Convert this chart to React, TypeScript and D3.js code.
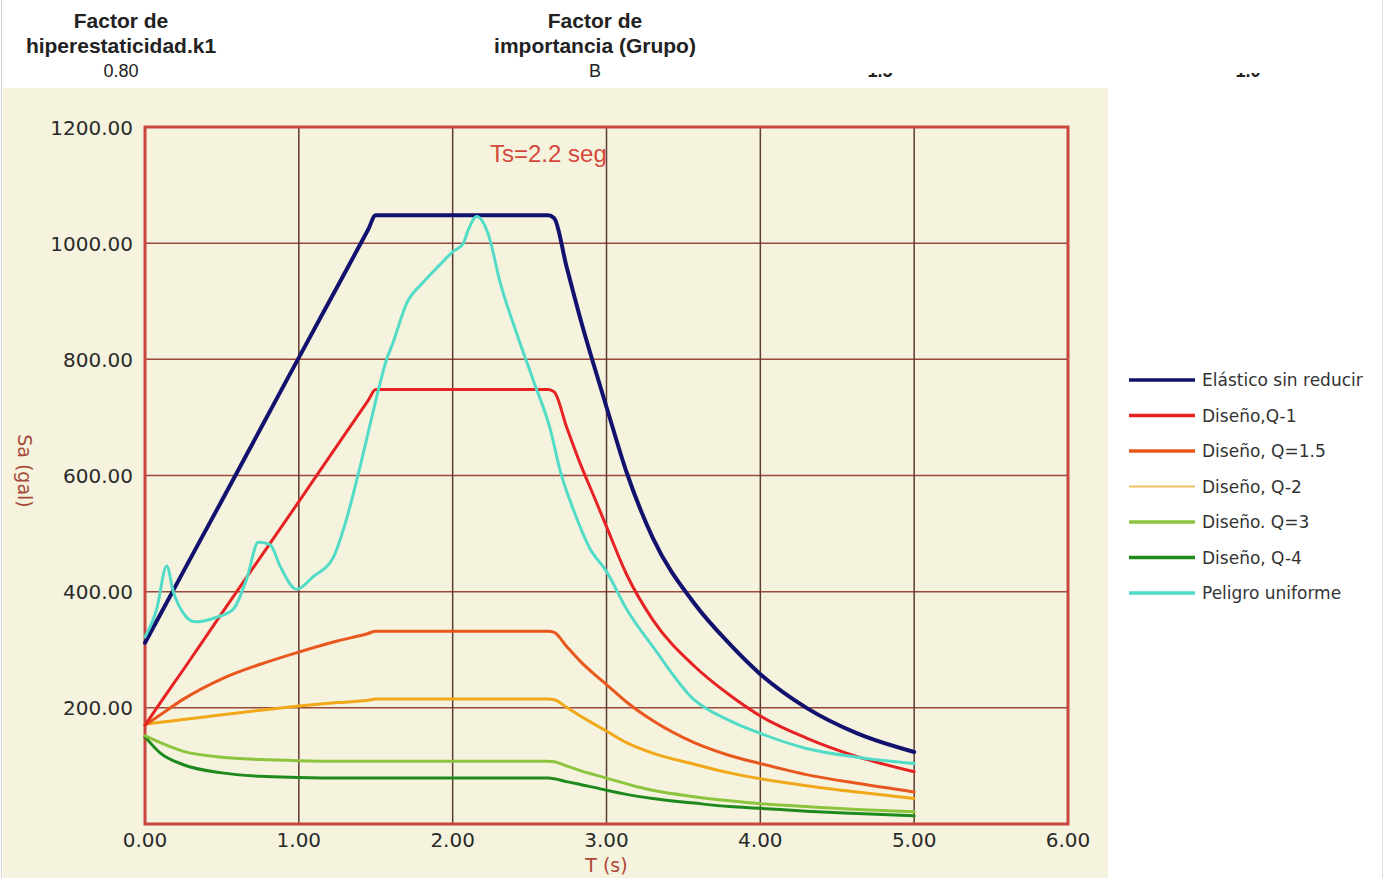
import React, { useEffect, useRef } from 'react';
import * as d3 from 'd3';

// periods shared by the design spectra (s)
const periods = [0, 0.1, 0.25, 0.5, 0.75, 1, 1.25, 1.45, 1.5, 2.0, 2.62, 2.66, 2.74, 2.83, 2.92, 3.0, 3.13, 3.3, 3.57, 3.8, 4.0, 4.3, 4.63, 5.0];

const elastico = [312, 361, 435, 557, 680, 803, 925, 1023, 1048, 1048, 1048, 1043, 960, 870, 788, 718, 606, 493, 380, 310, 258, 200, 156, 124];
const disenoQ1 = [170, 209, 266, 363, 459, 555, 652, 729, 748, 748, 748, 744, 684, 620, 563, 512, 430, 352, 272, 222, 186, 148, 116, 90];
const disenoQ15 = [170, 188, 215, 250, 275, 296, 315, 328, 332, 332, 332, 330, 306, 280, 258, 240, 210, 178, 140, 118, 104, 85, 70, 55];
const disenoQ2 = [172, 175, 180, 188, 196, 203, 209, 213, 215, 215, 215, 214, 201, 186, 172, 160, 140, 122, 103, 88, 78, 66, 55, 44];
const disenoQ3 = [152, 140, 125, 115, 111, 109, 108, 108, 108, 108, 108, 107, 100, 92, 85, 79, 69, 58, 47, 40, 35, 30, 25, 21];
const disenoQ4 = [150, 122, 102, 88, 82, 80, 79, 79, 79, 79, 79, 78, 73, 68, 63, 58, 51, 44, 36, 30, 27, 22, 18, 14];

// uniform hazard spectrum
const peligroT = [0, 0.076, 0.141, 0.184, 0.249, 0.325, 0.466, 0.574, 0.661, 0.737, 0.813, 0.878, 0.986, 1.094, 1.224, 1.311, 1.398, 1.484, 1.571, 1.614, 1.70, 1.81, 1.918, 2.0, 2.07, 2.10, 2.157, 2.232, 2.308, 2.417, 2.525, 2.633, 2.70, 2.785, 2.893, 3.0, 3.13, 3.305, 3.565, 3.80, 4.0, 4.3, 4.63, 5.0];
const peligroSa = [322, 370, 444, 400, 363, 348, 356, 370, 422, 485, 481, 444, 404, 426, 459, 526, 615, 711, 800, 830, 896, 933, 963, 985, 1000, 1022, 1046, 1015, 933, 844, 763, 681, 607, 541, 474, 435, 370, 304, 215, 178, 156, 130, 115, 104];

const xTicks = [0, 1, 2, 3, 4, 5, 6];
const yTicks = [200, 400, 600, 800, 1000, 1200];

const seriesNames = ['Elástico sin reducir', 'Diseño,Q-1', 'Diseño, Q=1.5', 'Diseño, Q-2', 'Diseño. Q=3', 'Diseño, Q-4', 'Peligro uniforme'];
const seriesColors = ['#12126e', '#e62222', '#e8581e', '#f0a818', '#8cc43e', '#1e8a1e', '#52dcc8'];

const App = () => {
  const ref = useRef(null);

  useEffect(() => {
    const svg = d3.select(ref.current);
    svg.selectAll('*').remove();

    const font = 'DejaVu Sans, sans-serif';
    const x = d3.scaleLinear().domain([0, 6]).range([145, 1068]);
    const y = d3.scaleLinear().domain([0, 1200]).range([824, 127]);

    svg.append('rect').attr('width', 1385).attr('height', 878).attr('fill', '#fff');
    svg.append('line').attr('x1', 1.5).attr('x2', 1.5).attr('y1', 0).attr('y2', 878).attr('stroke', '#d0d0d0');
    svg.append('line').attr('x1', 1382.5).attr('x2', 1382.5).attr('y1', 0).attr('y2', 878).attr('stroke', '#dcdcdc');

    // header fields
    const head = svg.append('g').attr('font-family', 'Liberation Sans, Arial, sans-serif').attr('text-anchor', 'middle').attr('fill', '#222');
    [[121, 'Factor de', 'hiperestaticidad.k1', '0.80'], [595, 'Factor de', 'importancia (Grupo)', 'B']].forEach(([cx, a, b, c]) => {
      head.append('text').attr('x', cx).attr('y', 28).attr('font-size', 21).attr('font-weight', 'bold').text(a);
      head.append('text').attr('x', cx).attr('y', 53).attr('font-size', 21).attr('font-weight', 'bold').text(b);
      head.append('text').attr('x', cx).attr('y', 77).attr('font-size', 18).text(c);
    });
    head.append('text').attr('x', 880).attr('y', 77).attr('font-size', 18).attr('font-weight', 'bold').text('1.5');
    head.append('text').attr('x', 1248).attr('y', 77).attr('font-size', 18).attr('font-weight', 'bold').text('1.0');
    svg.append('rect').attr('x', 840).attr('y', 0).attr('width', 460).attr('height', 73).attr('fill', '#fff');

    // panel
    svg.append('rect').attr('x', 3).attr('y', 88).attr('width', 1105).attr('height', 790).attr('fill', '#f5f3de');

    // grid
    svg.append('g').selectAll('line').data(yTicks.slice(0, -1)).join('line')
      .attr('x1', x(0)).attr('x2', x(6)).attr('y1', d => y(d)).attr('y2', d => y(d))
      .attr('stroke', '#9a4a3c').attr('stroke-width', 1.5);
    svg.append('g').selectAll('line').data(xTicks.slice(1, -1)).join('line')
      .attr('x1', d => x(d)).attr('x2', d => x(d)).attr('y1', y(0)).attr('y2', y(1200))
      .attr('stroke', '#5e3a30').attr('stroke-width', 1.5);
    svg.append('rect').attr('x', x(0)).attr('y', y(1200)).attr('width', x(6) - x(0)).attr('height', y(0) - y(1200))
      .attr('fill', 'none').attr('stroke', '#c8463e').attr('stroke-width', 3);

    // ticks
    svg.append('g').selectAll('text').data(yTicks).join('text')
      .attr('x', 133).attr('y', d => y(d) + 7.5).attr('text-anchor', 'end')
      .attr('font-family', font).attr('font-size', 20).attr('fill', '#2a2a2a')
      .text(d => d.toFixed(2));
    svg.append('g').selectAll('text').data(xTicks).join('text')
      .attr('x', d => x(d)).attr('y', 847).attr('text-anchor', 'middle')
      .attr('font-family', font).attr('font-size', 20).attr('fill', '#2a2a2a')
      .text(d => d.toFixed(2));

    svg.append('text').attr('x', x(3)).attr('y', 872).attr('text-anchor', 'middle')
      .attr('font-family', font).attr('font-size', 19).attr('fill', '#b04838').text('T (s)');
    svg.append('text').attr('transform', 'translate(18,471) rotate(90)').attr('text-anchor', 'middle')
      .attr('font-family', font).attr('font-size', 19).attr('fill', '#a84a3a').text('Sa (gal)');
    svg.append('text').attr('x', 490).attr('y', 162)
      .attr('font-family', 'Liberation Sans, Arial, sans-serif').attr('font-size', 24).attr('fill', '#d4483c').text('Ts=2.2 seg');

    // curves
    const line = d3.line().x(d => x(d[0])).y(d => y(d[1])).curve(d3.curveMonotoneX);
    const design = [elastico, disenoQ1, disenoQ15, disenoQ2, disenoQ3, disenoQ4];
    const widths = [4, 3, 3, 3, 3, 3, 3];
    const all = design.map(v => periods.map((t, i) => [t, v[i]]));
    all.push(peligroT.map((t, i) => [t, peligroSa[i]]));
    const order = [5, 4, 3, 2, 1, 0, 6];
    order.forEach(k => {
      svg.append('path').attr('d', line(all[k])).attr('fill', 'none')
        .attr('stroke', seriesColors[k]).attr('stroke-width', widths[k])
        .attr('stroke-linejoin', 'round').attr('stroke-linecap', 'round');
    });

    // legend
    const leg = svg.append('g');
    seriesNames.forEach((name, i) => {
      const ly = 380 + i * 35.5;
      leg.append('line').attr('x1', 1129).attr('x2', 1195).attr('y1', ly).attr('y2', ly)
        .attr('stroke', i === 3 ? '#f0c060' : seriesColors[i]).attr('stroke-width', i === 3 ? 2 : 3.5);
      leg.append('text').attr('x', 1202).attr('y', ly + 6).attr('font-family', font)
        .attr('font-size', 17).attr('fill', '#333').text(name);
    });
  }, []);

  return <svg ref={ref} width={1385} height={878} style={{ position: 'absolute', left: 0, top: 0 }} />;
};

export default App;
